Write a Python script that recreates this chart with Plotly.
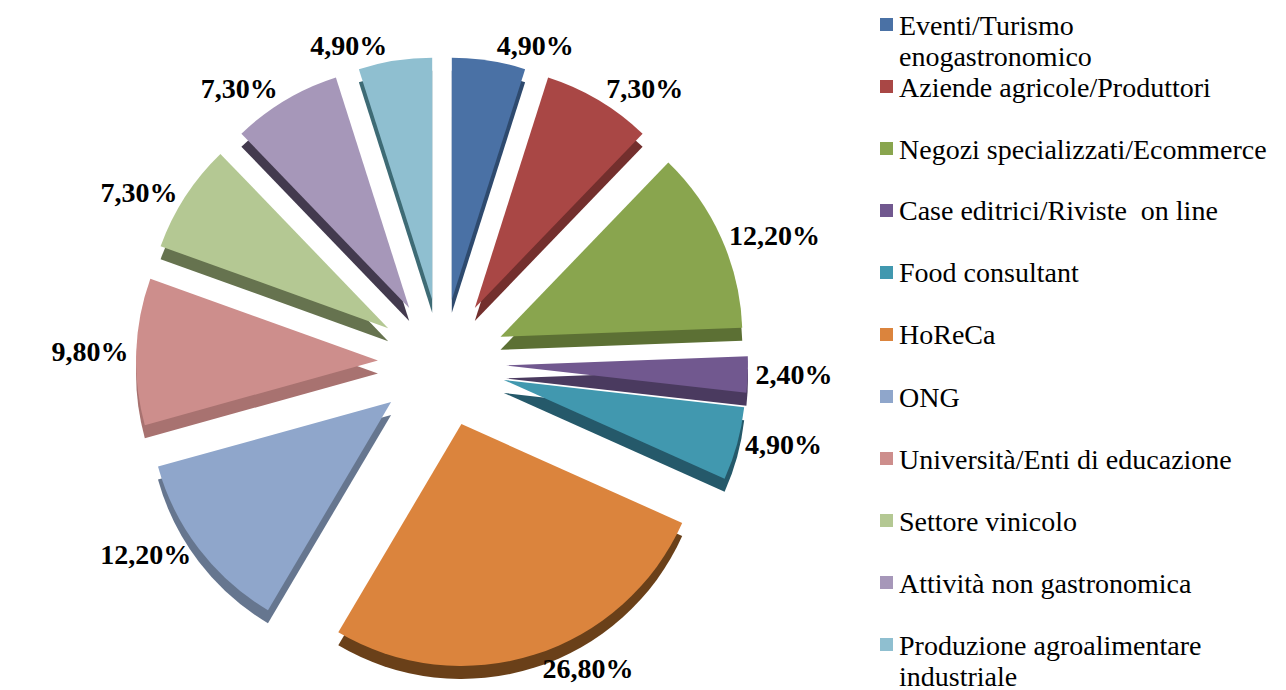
import plotly.graph_objects as go

categories = [
    "Eventi/Turismo enogastronomico",
    "Aziende agricole/Produttori",
    "Negozi specializzati/Ecommerce",
    "Case editrici/Riviste  on line",
    "Food consultant",
    "HoReCa",
    "ONG",
    "Università/Enti di educazione",
    "Settore vinicolo",
    "Attività non gastronomica",
    "Produzione agroalimentare industriale",
]
legend_lines = [
    ["Eventi/Turismo", "enogastronomico"],
    ["Aziende agricole/Produttori"],
    ["Negozi specializzati/Ecommerce"],
    ["Case editrici/Riviste  on line"],
    ["Food consultant"],
    ["HoReCa"],
    ["ONG"],
    ["Università/Enti di educazione"],
    ["Settore vinicolo"],
    ["Attività non gastronomica"],
    ["Produzione agroalimentare", "industriale"],
]
values = [4.9, 7.3, 12.2, 2.4, 4.9, 26.8, 12.2, 9.8, 7.3, 7.3, 4.9]

colors = ["#4A71A5", "#A94745", "#89A54E", "#71588F", "#4198AF", "#DB843D",
          "#8FA6CB", "#CD8E8C", "#B4C893", "#A697B9", "#8FBFD0"]
side_colors = ["#2E4A6E", "#732F2D", "#5C7034", "#4A3A5F", "#25596A", "#6A4019",
               "#66768F", "#A87270", "#66734F", "#433A4E", "#3E6B75"]

W, H = 1286, 690
OFF = 8  # page body margin offset
FONT = "Liberation Serif"


def px_x(x):
    return (x - OFF) / W


def px_y(y):
    return 1 - (y - OFF) / H


pull = 0.265
cx, cy, half = 442, 363, 306
dom_x = [px_x(cx - half), px_x(cx + half)]
top_px, bot_px = cy - half, cy + half
depth = 13

fig = go.Figure()
# extruded side (3D depth look)
fig.add_trace(go.Pie(
    labels=categories, values=values, sort=False, direction="clockwise",
    rotation=0, pull=[pull] * len(values), automargin=False,
    marker=dict(colors=side_colors, line=dict(width=0)),
    textinfo="none", hoverinfo="skip", showlegend=False,
    domain=dict(x=dom_x, y=[px_y(bot_px + depth), px_y(top_px + depth)]),
))
fig.add_trace(go.Pie(
    labels=categories, values=values, sort=False, direction="clockwise",
    rotation=0, pull=[pull] * len(values), automargin=False,
    marker=dict(colors=colors, line=dict(width=0)),
    texttemplate="%{value:.2f}%", textposition="outside",
    textfont=dict(family=FONT, size=28, color="black", weight="bold"),
    outsidetextfont=dict(family=FONT, size=28, color="black", weight="bold"),
    hoverinfo="label+percent", showlegend=False,
    domain=dict(x=dom_x, y=[px_y(bot_px), px_y(top_px)]),
))

# legend drawn manually to match spacing
shapes = []
annotations = []
item_y0 = 25
item_step = 62
line_step = 31
for i, lines in enumerate(legend_lines):
    yc = item_y0 + i * item_step
    shapes.append(dict(type="rect", xref="paper", yref="paper",
                       x0=px_x(880), x1=px_x(893), y0=px_y(yc + 6), y1=px_y(yc - 7),
                       fillcolor=colors[i], line=dict(width=0)))
    for j, t in enumerate(lines):
        annotations.append(dict(text=t, xref="paper", yref="paper",
                                x=px_x(897), y=px_y(yc + j * line_step),
                                xanchor="left", yanchor="middle", showarrow=False,
                                font=dict(family=FONT, size=28, color="black")))

fig.update_layout(
    width=W, height=H, autosize=False,
    margin=dict(l=0, r=0, t=0, b=0, pad=0, autoexpand=False),
    paper_bgcolor="white", plot_bgcolor="white",
    separators=",.",
    shapes=shapes, annotations=annotations,
    showlegend=False,
)

fig.write_html("out.html")
